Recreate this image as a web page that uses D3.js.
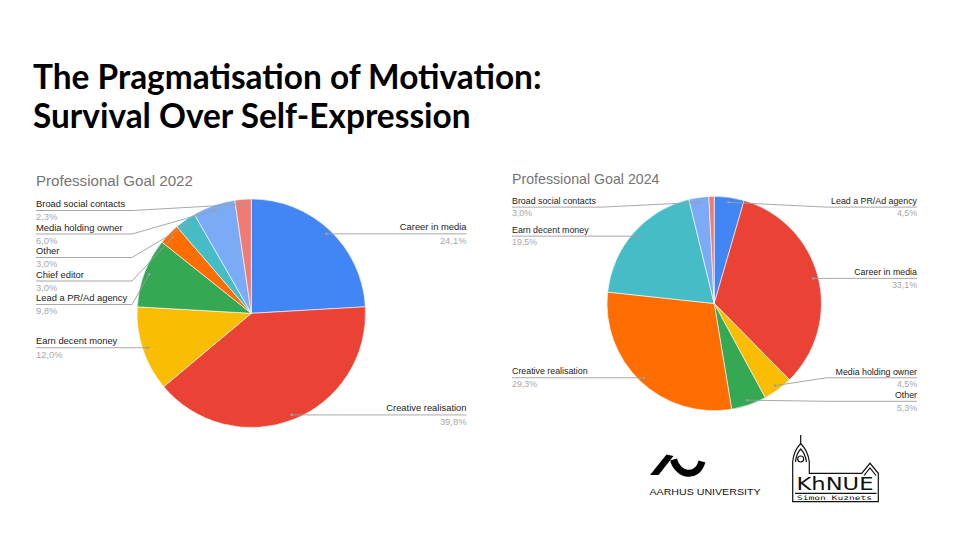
<!DOCTYPE html>
<html>
<head>
<meta charset="utf-8">
<script src="https://cdn.jsdelivr.net/npm/d3@7"></script>
<style>
  body { margin: 0; background: #fff; }
</style>
</head>
<body>
<script>
// data
var categories2022 = ["Career in media", "Creative realisation", "Earn decent money", "Lead a PR/Ad agency",
                      "Chief editor", "Other", "Media holding owner", "Broad social contacts"];
var values2022 = [24.1, 39.8, 12.0, 9.8, 3.0, 3.0, 6.0, 2.3];

var categories2024 = ["Lead a PR/Ad agency", "Career in media", "Media holding owner", "Other",
                      "Creative realisation", "Earn decent money", "Broad social contacts", "Chief editor"];
var values2024 = [4.5, 33.1, 4.5, 5.3, 29.3, 19.5, 3.0, 0.8];

var palette = ["#4285F4", "#EA4335", "#FBBC04", "#34A853", "#FF6D01", "#46BDC6", "#7BAAF7", "#F07B72"];

var W = 960, H = 540;

var svg = d3.select("body").append("svg")
    .attr("width", W)
    .attr("height", H)
    .style("font-family", "'Liberation Sans', Arial, sans-serif");

svg.append("rect").attr("width", W).attr("height", H).attr("fill", "#fff");

// Slide title
var title = svg.append("text")
    .attr("font-family", "Lato")
    .attr("font-weight", 700)
    .attr("font-size", 33.4)
    .attr("fill", "#000");
title.append("tspan").attr("x", 33).attr("y", 89.3).text("The Pragmatisation of Motivation:");
title.append("tspan").attr("x", 33).attr("y", 128.3).text("Survival Over Self-Expression");

function fmt(v) { return v.toFixed(1).replace(".", ",") + "%"; }

function drawPie(opt) {
  var s = opt.scale;
  var g = svg.append("g");
  var data = opt.values.map(function(v, i) { return {name: opt.categories[i], value: v, i: i}; });

  var pie = d3.pie().sort(null).value(function(d) { return d.value; });
  var arcs = pie(data);
  var arc = d3.arc().innerRadius(0).outerRadius(opt.r);

  // chart title
  g.append("text")
      .attr("x", opt.left)
      .attr("y", opt.cy - opt.r - 13 * s)
      .attr("font-size", 15.1 * s)
      .attr("fill", "#757575")
      .text(opt.title);

  g.append("g")
      .attr("transform", "translate(" + opt.cx + "," + opt.cy + ")")
    .selectAll("path")
    .data(arcs)
    .enter().append("path")
      .attr("d", arc)
      .attr("fill", function(d) { return palette[d.data.i]; })
      .attr("stroke", "#fff")
      .attr("stroke-width", 0.6);

  // label anchor points on each slice
  var rd = opt.r - 5;
  var labels = arcs.filter(function(d) { return d.data.value >= 1; }).map(function(d) {
    var a = (d.startAngle + d.endAngle) / 2;
    return {
      d: d,
      px: opt.cx + rd * Math.sin(a),
      py: opt.cy - rd * Math.cos(a),
      side: a < Math.PI ? "right" : "left"
    };
  });

  var gap = 23.5,
      minTop = opt.cy - opt.r + 11.5 * s,
      maxBottom = opt.cy + opt.r - 10 * s;

  ["left", "right"].forEach(function(side) {
    var list = labels.filter(function(l) { return l.side === side; })
        .sort(function(a, b) { return a.py - b.py; });
    list.forEach(function(l, k) {
      l.ly = Math.max(l.py, minTop, k > 0 ? list[k - 1].ly + gap : -Infinity);
    });
    for (var k = list.length - 1; k >= 0; k--) {
      var lim = k < list.length - 1 ? list[k + 1].ly - gap : maxBottom;
      list[k].ly = Math.min(list[k].ly, lim, maxBottom);
    }
  });

  labels.forEach(function(l) {
    var right = l.side === "right";
    var endX = right ? opt.right : opt.left;
    var bendX = right ? opt.cx + opt.r + 5 : opt.cx - opt.r - 5;
    var pts;
    if (Math.abs(l.ly - l.py) < 1) {
      pts = [[l.px, l.py], [endX, l.py]];
      l.ly = l.py;
    } else {
      pts = [[l.px, l.py], [bendX, l.ly], [endX, l.ly]];
    }
    g.append("path")
        .attr("d", d3.line()(pts))
        .attr("fill", "none")
        .attr("stroke", "#9e9e9e")
        .attr("stroke-width", 0.9);
    g.append("circle")
        .attr("cx", l.px).attr("cy", l.py).attr("r", 1.3)
        .attr("fill", "#9e9e9e");

    g.append("text")
        .attr("x", endX)
        .attr("y", l.ly - 3.5 * s)
        .attr("text-anchor", right ? "end" : "start")
        .attr("font-size", 9.4 * s)
        .attr("fill", "#222")
        .text(l.d.data.name);
    g.append("text")
        .attr("x", endX)
        .attr("y", l.ly + 9.8 * s)
        .attr("text-anchor", right ? "end" : "start")
        .attr("font-size", 9.4 * s)
        .attr("fill", "#a8a8a8")
        .text(fmt(l.d.data.value));
  });
}

drawPie({title: "Professional Goal 2022", categories: categories2022, values: values2022,
         cx: 251.3, cy: 313.3, r: 114.3, left: 36, right: 466.5, scale: 1});
drawPie({title: "Professional Goal 2024", categories: categories2024, values: values2024,
         cx: 714.2, cy: 303.5, r: 107.2, left: 512, right: 917, scale: 0.94});

// Aarhus University logo
var au = svg.append("g");
au.append("path")
    .attr("d", "M650,475 L658.5,475 L673.5,456 L666.5,454.5 Z")
    .attr("fill", "#000");
au.append("path")
    .attr("d", "M673.5,459.5 C678,476 697,479 702,461.5")
    .attr("fill", "none")
    .attr("stroke", "#000")
    .attr("stroke-width", 7);
au.append("text")
    .attr("x", 649.5).attr("y", 495)
    .attr("font-size", 9.3)
    .attr("textLength", 111)
    .attr("lengthAdjust", "spacingAndGlyphs")
    .attr("fill", "#111")
    .text("AARHUS UNIVERSITY");

// KhNUE logo
var kh = svg.append("g")
    .attr("fill", "none")
    .attr("stroke", "#111")
    .attr("stroke-width", 1.2);
kh.append("path")
    .attr("d", "M792.7,501.7 L792.7,461.7 Q793.5,451 800.7,443.5 Q808,451 809.3,461.7 L809.3,473.3 L861.7,473.3 L870,463.3 L878.3,473.3 L878.3,501.7 Z");
kh.append("path").attr("d", "M800.7,443.5 L800.7,435");
kh.append("path").attr("d", "M795.5,462 Q796,454 800.7,449 Q805.5,454 806.5,462");
kh.append("circle").attr("cx", 800.7).attr("cy", 459).attr("r", 3);
kh.append("path").attr("d", "M864,475.5 L870,468 L876,475.5");
kh.append("path").attr("d", "M795,493.3 L876.5,493.3");
svg.append("text")
    .attr("x", 796.5).attr("y", 490.3)
    .attr("font-family", "'DejaVu Sans'")
    .attr("font-size", 18)
    .attr("textLength", 77)
    .attr("lengthAdjust", "spacingAndGlyphs")
    .attr("fill", "#111")
    .text("KhNUE");
svg.append("text")
    .attr("x", 797).attr("y", 499.5)
    .attr("font-family", "'DejaVu Sans Mono'")
    .attr("font-size", 6.2)
    .attr("textLength", 75)
    .attr("lengthAdjust", "spacingAndGlyphs")
    .attr("fill", "#111")
    .text("Simon Kuznets");
</script>
</body>
</html>
